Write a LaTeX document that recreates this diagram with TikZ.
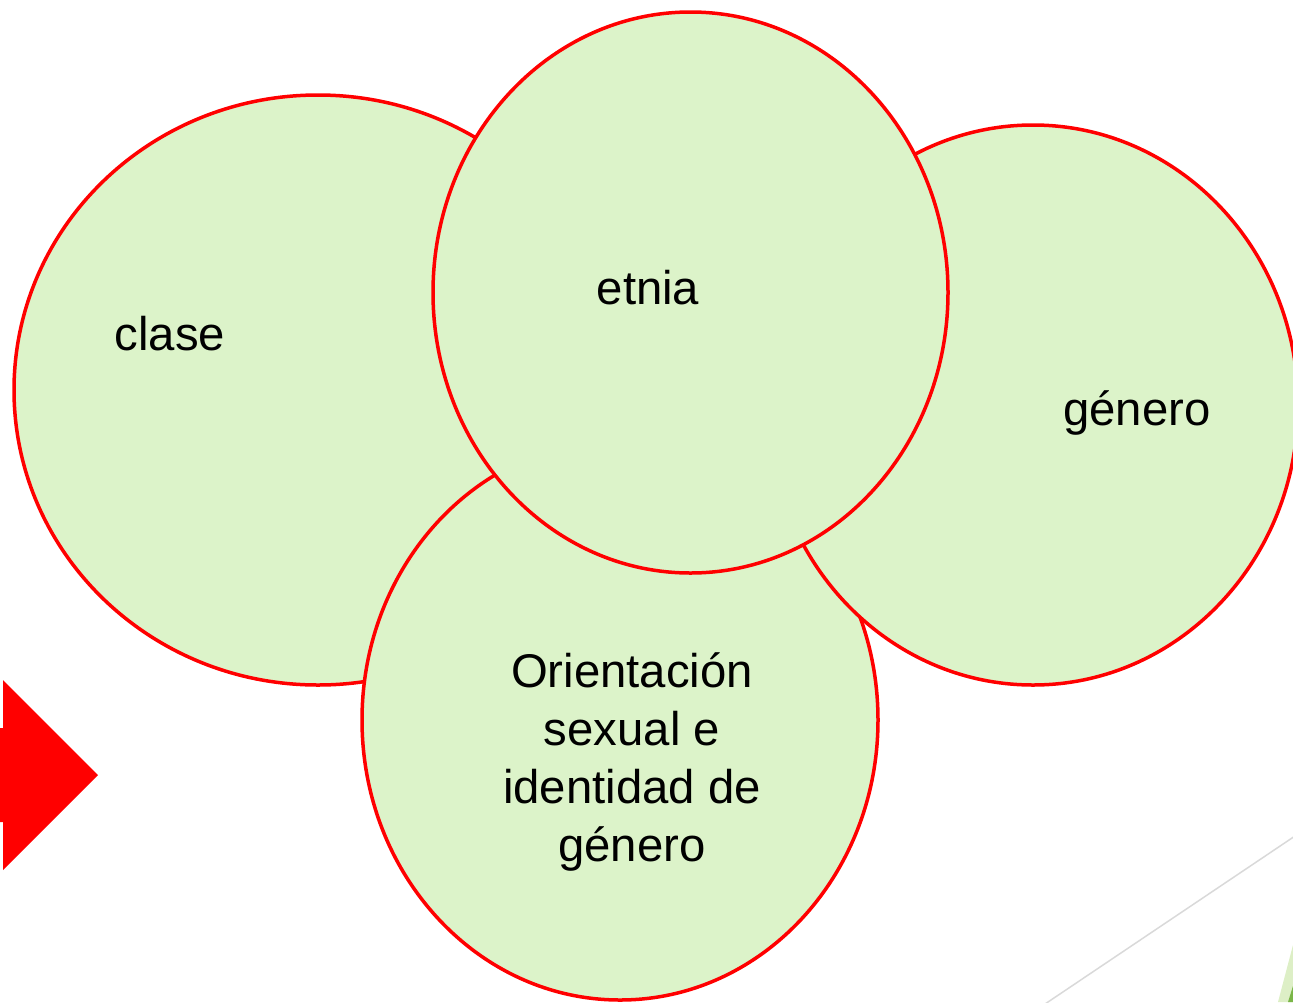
\documentclass[tikz,border=0pt]{standalone}
\usepackage{fontspec}
\setmainfont{Liberation Sans}
\usetikzlibrary{shapes.geometric}
\definecolor{cfill}{HTML}{DCF3C9}
\definecolor{cred}{HTML}{FF0000}
\definecolor{cgray}{HTML}{D9D9D9}
\definecolor{tgreen}{HTML}{DDEFC6}
\definecolor{dgreen}{HTML}{7AB648}
\begin{document}
\begin{tikzpicture}[x=1pt,y=-1pt,
  blob/.style={ellipse,draw=cred,fill=cfill,line width=3.5pt,inner sep=0pt},
  lbl/.style={font=\fontsize{47.3}{57.7}\selectfont,align=center,inner sep=0pt}]
\useasboundingbox (0,0) rectangle (1293,1002);
\begin{scope}
\clip (0,0) rectangle (1293,1002);
\draw[cgray,line width=1.5pt] (1045,1004) -- (1295,836);
\fill[tgreen] (1278,1002) -- (1293,945) -- (1293,1002) -- cycle;
\fill[dgreen] (1288,1002) -- (1293,986) -- (1293,1002) -- cycle;
\fill[cred] (0,728) -- (3,728) -- (3,680) -- (98,775) -- (3,870) -- (3,822) -- (0,822) -- cycle;
\node[blob,minimum width=608pt,minimum height=590pt] (clase) at (318,390) {};
\node[blob,minimum width=516pt,minimum height=560pt] (orient) at (620,720) {};
\node[blob,minimum width=530pt,minimum height=560pt] (genero) at (1033,405) {};
\node[blob,minimum width=515pt,minimum height=561pt] (etnia) at (690.5,292.5) {};
\end{scope}
\node[lbl] (tclase) at (170,334) {clase};
\node[lbl] (tetnia) at (648,288) {etnia};
\node[lbl] (tgenero) at (1137,413) {género};
\node[lbl] (torient) at (632,762) {Orientación\\sexual e\\identidad de\\género};
\end{tikzpicture}
\end{document}
